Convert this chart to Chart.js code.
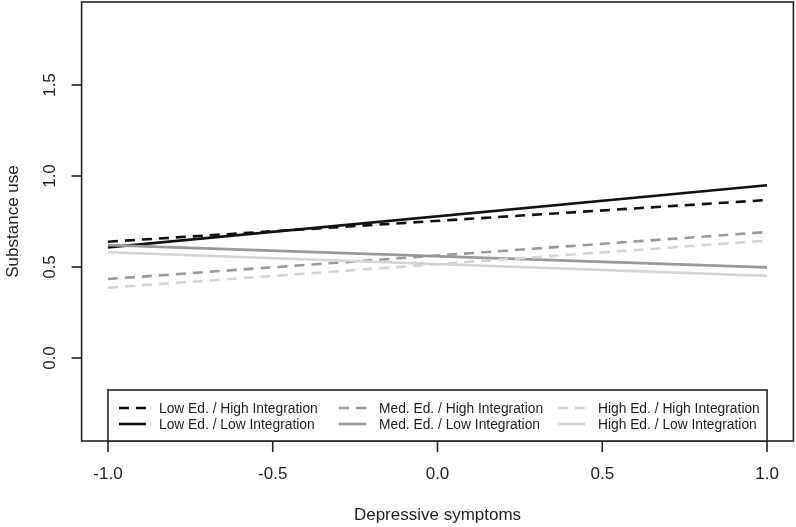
<!DOCTYPE html>
<html>
<head>
<meta charset="utf-8">
<script src="https://cdn.jsdelivr.net/npm/chart.js@4"></script>
<style>
  body { margin: 0; background: #fff; }
  #wrap { width: 796px; height: 527px; position: relative; }
</style>
</head>
<body>
<div id="wrap"><canvas id="chart"></canvas></div>
<script>
// x positions (depressive symptoms, standardized)
const xValues = [-1, 1];

// predicted substance use at x = -1 and x = 1
const lowEdHigh = [0.639, 0.868];
const lowEdLow = [0.608, 0.949];
const medEdHigh = [0.434, 0.692];
const medEdLow = [0.620, 0.498];
const highEdHigh = [0.386, 0.645];
const highEdLow = [0.581, 0.451];

const seriesNames = [
    'Low Ed. / High Integration', 'Low Ed. / Low Integration',
    'Med. Ed. / High Integration', 'Med. Ed. / Low Integration',
    'High Ed. / High Integration', 'High Ed. / Low Integration'
];

const xTicks = [-1, -0.5, 0, 0.5, 1];
const xTickLabels = ['-1.0', '-0.5', '0.0', '0.5', '1.0'];
const yTicks = [0, 0.5, 1, 1.5];
const yTickLabels = ['0.0', '0.5', '1.0', '1.5'];

const BLACK = '#111111';
const GRAY = '#999999';
const LIGHT = '#d4d4d4';
const DASH = [10, 7];
const FONT = '"Liberation Sans", Arial, Helvetica, sans-serif';
const TEXT = '#1e1e1e';

function pts(vals) {
    return xValues.map((x, i) => ({ x: x, y: vals[i] }));
}

function line(label, vals, color, dashed) {
    return {
        label: label,
        data: pts(vals),
        borderColor: color,
        borderWidth: 2.6,
        borderDash: dashed ? DASH : [],
        pointRadius: 0,
        fill: false,
        tension: 0
    };
}

const datasets = [
    line(seriesNames[5], highEdLow, LIGHT, false),
    line(seriesNames[4], highEdHigh, LIGHT, true),
    line(seriesNames[3], medEdLow, GRAY, false),
    line(seriesNames[2], medEdHigh, GRAY, true),
    line(seriesNames[1], lowEdLow, BLACK, false),
    line(seriesNames[0], lowEdHigh, BLACK, true)
];

// draws box, axes, ticks, titles and legend in base-graphics style
const axesPlugin = {
    id: 'rAxes',
    afterDraw(chart) {
        const ctx = chart.ctx;
        const a = chart.chartArea;
        const xs = chart.scales.x;
        const ys = chart.scales.y;
        ctx.save();

        // plot box
        ctx.strokeStyle = '#222';
        ctx.lineWidth = 1.6;
        ctx.setLineDash([]);
        ctx.strokeRect(a.left, a.top, a.right - a.left, a.bottom - a.top);

        // x axis ticks + labels
        ctx.fillStyle = TEXT;
        ctx.font = '17px ' + FONT;
        ctx.textAlign = 'center';
        ctx.textBaseline = 'middle';
        xTicks.forEach((v, i) => {
            const px = xs.getPixelForValue(v);
            ctx.beginPath();
            ctx.moveTo(px, a.bottom);
            ctx.lineTo(px, a.bottom + 11);
            ctx.stroke();
            ctx.fillText(xTickLabels[i], px, a.bottom + 33);
        });

        // y axis ticks + rotated labels
        yTicks.forEach((v, i) => {
            const py = ys.getPixelForValue(v);
            ctx.beginPath();
            ctx.moveTo(a.left, py);
            ctx.lineTo(a.left - 10, py);
            ctx.stroke();
            ctx.save();
            ctx.translate(a.left - 31, py);
            ctx.rotate(-Math.PI / 2);
            ctx.fillText(yTickLabels[i], 0, 0);
            ctx.restore();
        });

        // axis titles
        ctx.fillText('Depressive symptoms', (a.left + a.right) / 2, 515);
        ctx.save();
        ctx.translate(13, (a.top + a.bottom) / 2);
        ctx.rotate(-Math.PI / 2);
        ctx.fillText('Substance use', 0, 0);
        ctx.restore();

        // legend box
        const lx0 = xs.getPixelForValue(-1);
        const lx1 = xs.getPixelForValue(1);
        const ly0 = 390;
        ctx.fillStyle = '#fff';
        ctx.fillRect(lx0, ly0, lx1 - lx0, a.bottom - ly0);
        ctx.strokeStyle = '#222';
        ctx.lineWidth = 1.6;
        ctx.strokeRect(lx0, ly0, lx1 - lx0, a.bottom - ly0);

        const cols = [
            { x: lx0 + 11, color: BLACK, names: [seriesNames[0], seriesNames[1]] },
            { x: lx0 + 231, color: GRAY, names: [seriesNames[2], seriesNames[3]] },
            { x: lx0 + 450, color: LIGHT, names: [seriesNames[4], seriesNames[5]] }
        ];
        const rows = [408, 424];
        ctx.font = '13.8px ' + FONT;
        ctx.textAlign = 'left';
        cols.forEach(c => {
            rows.forEach((ry, r) => {
                ctx.strokeStyle = c.color;
                ctx.lineWidth = 2.6;
                ctx.setLineDash(r === 0 ? DASH : []);
                ctx.beginPath();
                ctx.moveTo(c.x, ry);
                ctx.lineTo(c.x + 27, ry);
                ctx.stroke();
                ctx.setLineDash([]);
                ctx.fillStyle = TEXT;
                ctx.fillText(c.names[r], c.x + 40, ry + 1);
            });
        });

        ctx.restore();
    }
};

new Chart(document.getElementById('chart'), {
    type: 'line',
    data: { datasets: datasets },
    options: {
        responsive: true,
        maintainAspectRatio: false,
        animation: false,
        layout: { padding: { left: 81.6, right: 2.6, top: 2, bottom: 86 } },
        plugins: { legend: { display: false }, tooltip: { enabled: false } },
        scales: {
            x: { type: 'linear', min: -1.08, max: 1.08, display: false },
            y: { type: 'linear', min: -0.456, max: 1.956, display: false }
        }
    },
    plugins: [axesPlugin]
});
</script>
</body>
</html>
